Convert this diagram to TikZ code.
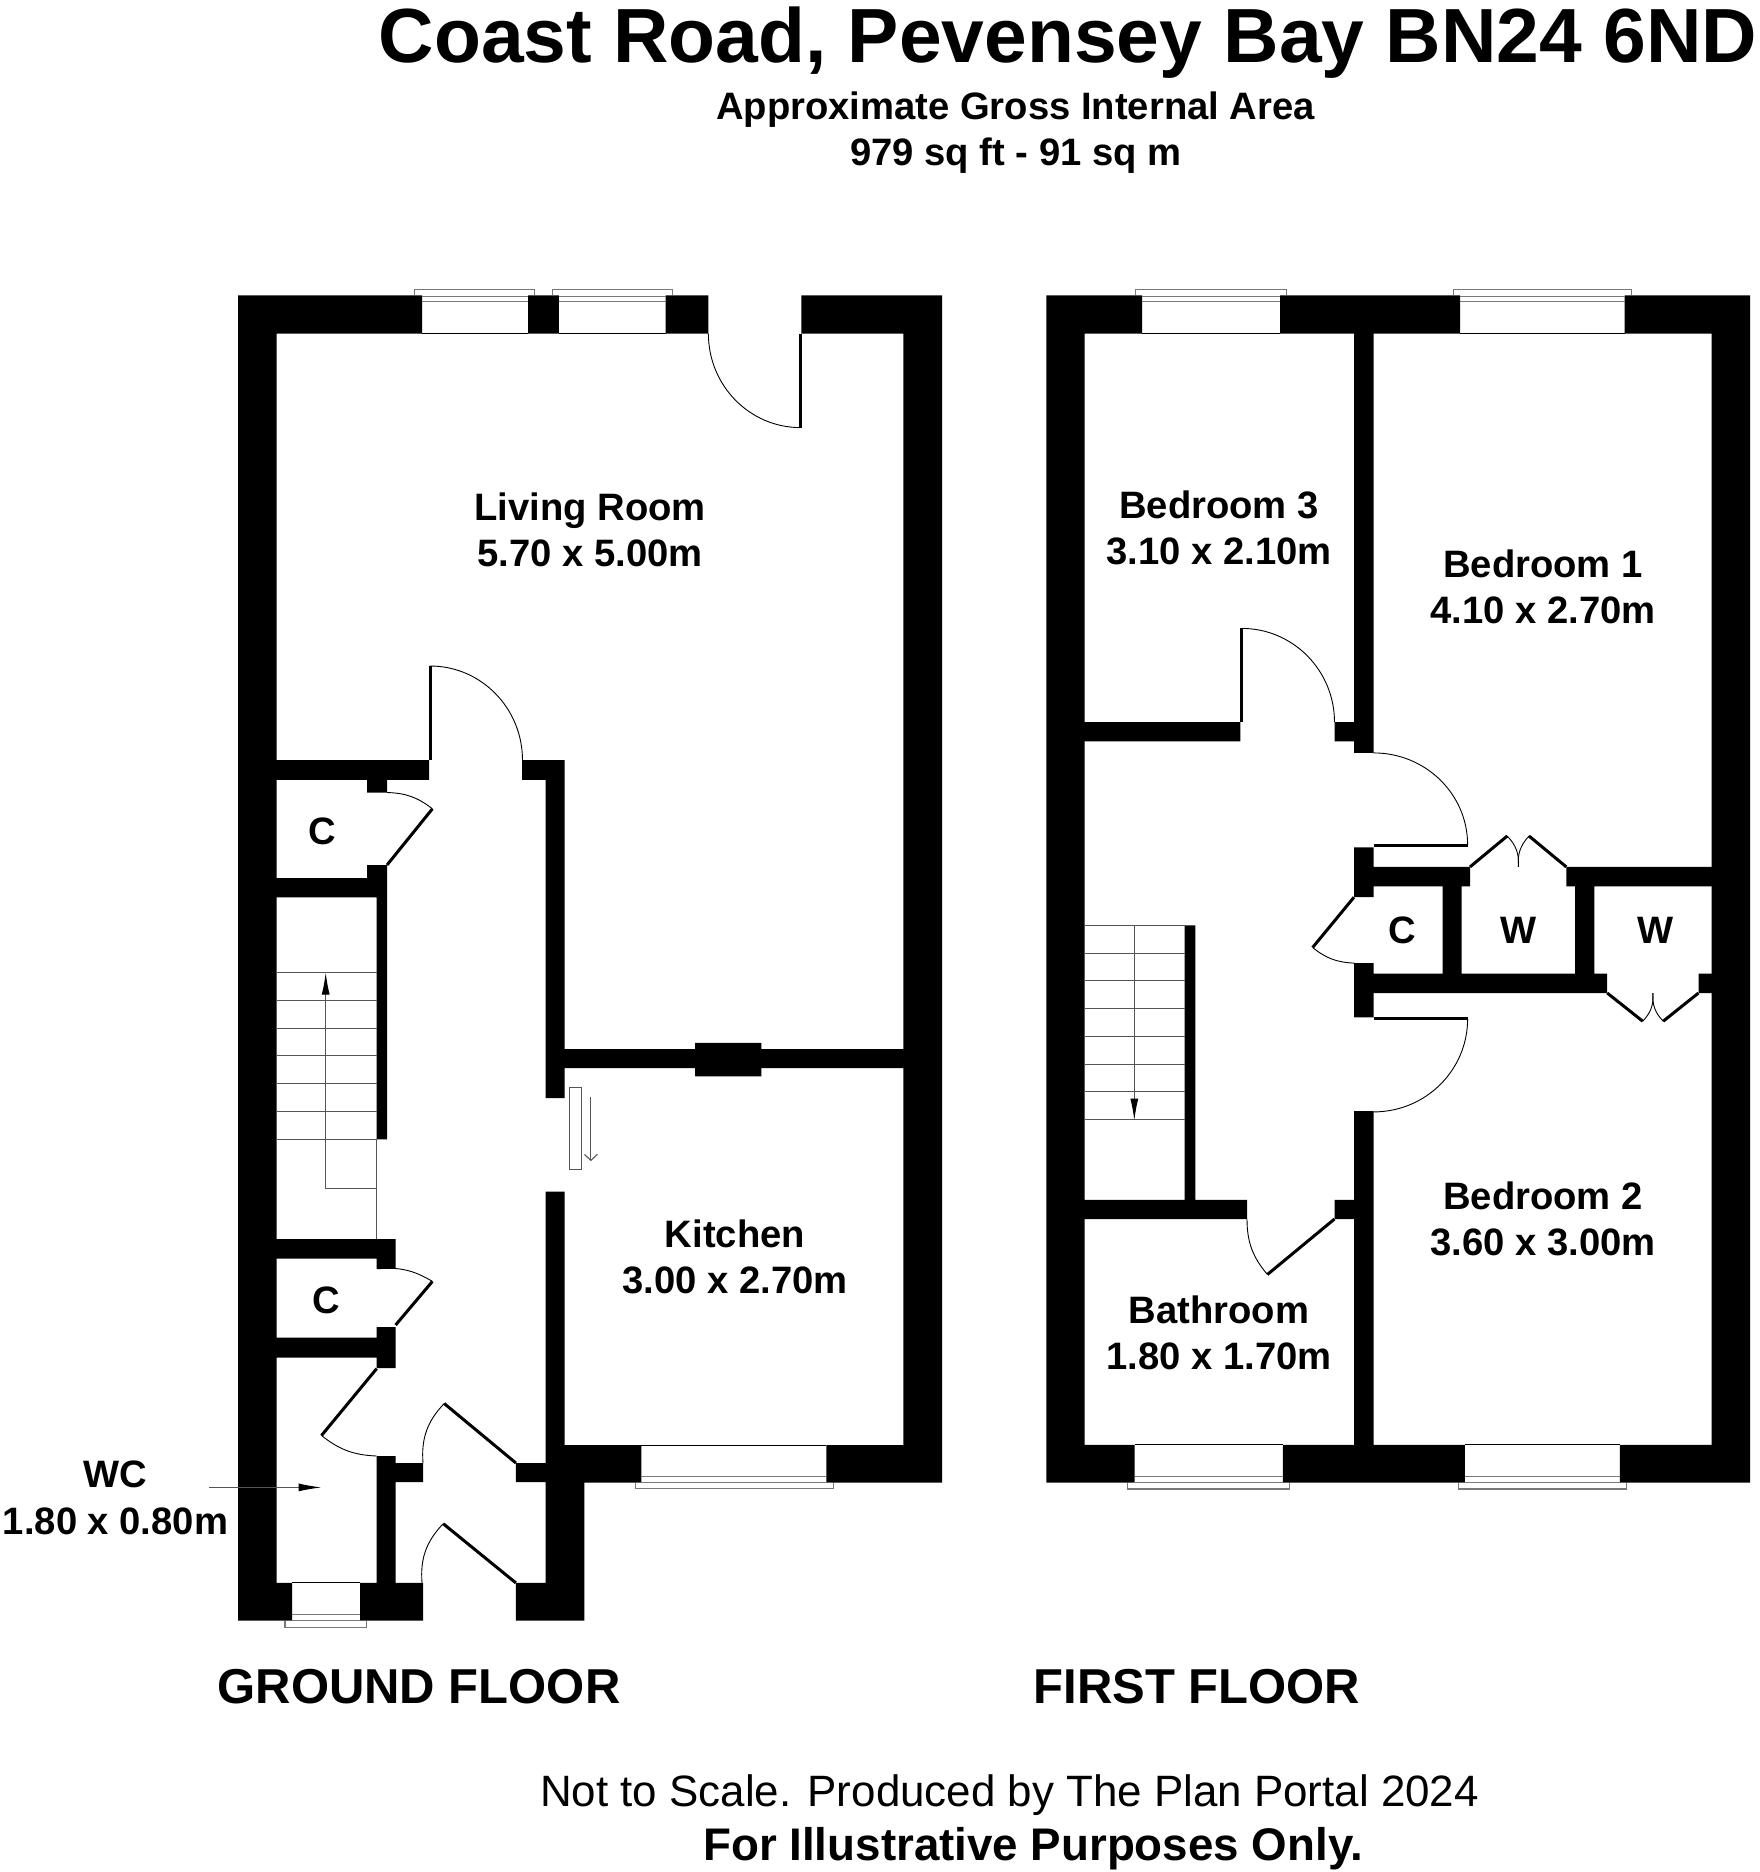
\documentclass[tikz,border=0pt]{standalone}
\usepackage{fontspec}
\setmainfont{Liberation Sans}
\usetikzlibrary{arrows.meta}
\definecolor{planline}{RGB}{85,85,85}
\definecolor{sillline}{RGB}{120,120,120}
\tikzset{
  wall/.style={fill=black},
  leaf/.style={draw=black,line width=3pt},
  swing/.style={draw=black,line width=0.9pt},
  stairline/.style={draw=planline,line width=1.1pt},
  sill/.style={draw=sillline,line width=1.1pt},
  roomtext/.style={anchor=base,inner sep=0pt,font=\bfseries\fontsize{38.2}{46}\selectfont},
  floortext/.style={anchor=base,inner sep=0pt,font=\bfseries\fontsize{49}{58}\selectfont},
  noteboldtext/.style={anchor=base,inner sep=0pt,font=\bfseries\fontsize{45.7}{54}\selectfont},
  noteplaintext/.style={anchor=base,inner sep=0pt,font=\fontsize{43.9}{52}\selectfont},
}
% window on the top wall: clear span, then sill
\newcommand{\topwindow}[4]{
  \draw[sill] (#3,295.3) -- (#3,289.2) -- (#4,289.2) -- (#4,295.3);
  \draw[sill] (#1,296.5) -- (#2,296.5) (#1,301.8) -- (#2,301.8);
  \draw[swing] (#1,333.7) -- (#2,333.7);
}
% window on the bottom wall, y of the wall edge in #5
\newcommand{\lowwindow}[5]{
  \draw[sill] (#3,#5) -- (#3,#5+6.4) -- (#4,#5+6.4) -- (#4,#5);
  \draw[sill] (#1,#5) -- (#2,#5) (#1,#5-6) -- (#2,#5-6);
}
\begin{document}
\begin{tikzpicture}[x=1pt,y=-1pt]
  \useasboundingbox (0,0) rectangle (1760,1872);

  \node[anchor=base,inner sep=0pt,font=\bfseries\fontsize{76.8}{90}\selectfont] (title) at (1068,62) {Coast Road, Pevensey Bay BN24 6ND};
  \node[roomtext] (areaname) at (1015.5,119) {Approximate Gross Internal Area};
  \node[roomtext] (areasize) at (1016,165) {979 sq ft - 91 sq m};

  % ground floor walls
  \fill[wall]
    (238,295.3) rectangle (422,333.7)
    (528,295.3) rectangle (558.8,333.7)
    (665.5,295.3) rectangle (708.4,333.7)
    (801.4,295.3) rectangle (942,333.7)
    (903.3,295.3) rectangle (942,1482.5)
    (238,295.3) rectangle (276.6,1620.7)
    (276.6,760.2) rectangle (429,779.8)
    (522,760.2) rectangle (564.5,779.8)
    (545.6,760.2) rectangle (564.5,1098)
    (367.2,779.8) rectangle (387,792.5)
    (367.2,865) rectangle (387,878)
    (276.6,878) rectangle (387,897.4)
    (376.7,878) rectangle (387,1139.3)
    (276.6,1239.2) rectangle (395.6,1258.6)
    (376.7,1239.2) rectangle (395.6,1268.8)
    (376.7,1327) rectangle (395.6,1368)
    (276.6,1337.6) rectangle (395.6,1357.5)
    (376.7,1456) rectangle (395.6,1620.7)
    (395.6,1463) rectangle (423,1482)
    (515.9,1463) rectangle (545.6,1482)
    (545.6,1191.7) rectangle (564.5,1482.5)
    (545.6,1445.2) rectangle (641.4,1482.5)
    (826.4,1445.2) rectangle (942,1482.5)
    (545.6,1482.5) rectangle (584.3,1620.7)
    (564.5,1049.2) rectangle (903.3,1068)
    (695.2,1042.9) rectangle (761.3,1076.3)
    (276.6,1582.9) rectangle (292.2,1620.7)
    (360.2,1582.9) rectangle (423,1620.7)
    (515.9,1582.9) rectangle (545.6,1620.7);

  \topwindow{422}{528}{414.4}{534.8}
  \topwindow{558.8}{665.5}{552.2}{672.6}
  \lowwindow{641.4}{826.4}{635.3}{833.5}{1482.5}
  \lowwindow{292.2}{360.2}{285}{366.8}{1620.7}
  \draw[swing] (641.4,1445.2) -- (826.4,1445.2);
  \draw[swing] (292.2,1582.9) -- (360.2,1582.9);

  % ground floor doors
  \draw[leaf] (800.5,333.7) -- (800.5,427.6);
  \draw[swing] (708.4,333.7) arc[start angle=180,end angle=270,x radius=92.1pt,y radius=93.9pt];
  \draw[leaf] (430.2,760.2) -- (430.2,666);
  \draw[swing] (430.2,666) arc[start angle=90,end angle=0,x radius=92.3pt,y radius=94.2pt];
  \draw[leaf] (432.4,808.8) -- (387,865);
  \draw[swing] (387,792.5) to[bend left=18] (432.4,808.8);
  \draw[leaf] (432.4,1281.4) -- (395.6,1325);
  \draw[swing] (378,1268.8) to[bend left=18] (432.4,1281.4);
  \draw[leaf] (376.7,1368.6) -- (321.5,1435.5);
  \draw[swing] (321.5,1435.5) to[bend right=18] (376.7,1456);
  \draw[leaf] (444.2,1403.5) -- (515.9,1463);
  \draw[swing] (423,1463) to[bend left=24] (444.2,1403.5);
  \draw[leaf] (443.2,1523.7) -- (515.9,1582.9);
  \draw[swing] (422,1582.9) to[bend left=24] (443.2,1523.7);

  % sliding door
  \draw[stairline] (569.7,1087.5) rectangle (581.5,1169.9);
  \draw[stairline,-{Straight Barb[length=6pt,width=13pt]}] (590.9,1097.2) -- (590.9,1161.1);

  % ground floor stairs
  \foreach \treadY in {972.6,1000.7,1028.3,1055.5,1083.6,1111.2,1139.3}
    \draw[stairline] (276.6,\treadY) -- (376.7,\treadY);
  \draw[stairline] (376.7,1139.3) -- (376.7,1239.2);
  \draw[stairline,-{Latex[length=22pt,width=8pt,black]}] (376.7,1188.3) -- (325.7,1188.3) -- (325.7,972.6);

  % first floor walls
  \fill[wall]
    (1046.3,295.3) rectangle (1142.2,333.7)
    (1280,295.3) rectangle (1460.2,333.7)
    (1624.5,295.3) rectangle (1750.2,333.7)
    (1046.3,295.3) rectangle (1084.5,1482.6)
    (1711.6,295.3) rectangle (1750.2,1482.6)
    (1354,333.7) rectangle (1373.6,752.9)
    (1334.5,722.2) rectangle (1354,741.4)
    (1084.5,722.2) rectangle (1240.4,741.4)
    (1354,847.3) rectangle (1373.6,897.2)
    (1373.6,866.9) rectangle (1470,886.4)
    (1442.5,886.4) rectangle (1461.6,973.5)
    (1566.3,866.9) rectangle (1711.6,886.4)
    (1575.2,886.4) rectangle (1594.3,973.5)
    (1354,973.5) rectangle (1607.2,993)
    (1698.5,973.5) rectangle (1711.6,993)
    (1354,963.1) rectangle (1373.6,1017.3)
    (1354,1111) rectangle (1373.6,1445)
    (1184.6,925.4) rectangle (1195.3,1199.9)
    (1084.5,1199.9) rectangle (1247,1219)
    (1334.5,1199.9) rectangle (1354,1219)
    (1046.3,1444.9) rectangle (1134.7,1482.6)
    (1282.8,1444.9) rectangle (1464.8,1482.6)
    (1619.9,1444.9) rectangle (1750.2,1482.6);

  \topwindow{1142.2}{1280}{1135.2}{1286.5}
  \topwindow{1460.2}{1624.5}{1453.7}{1631.5}
  \lowwindow{1134.7}{1282.8}{1127.8}{1289.3}{1482.6}
  \lowwindow{1464.8}{1619.9}{1458.3}{1626.4}{1482.6}
  \draw[swing] (1134.7,1444.9) -- (1282.8,1444.9) (1464.8,1444.9) -- (1619.9,1444.9);

  % first floor doors
  \draw[leaf] (1241.8,722.2) -- (1241.8,628.4);
  \draw[swing] (1241.8,628.4) arc[start angle=90,end angle=0,x radius=92.7pt,y radius=93.8pt];
  \draw[leaf] (1373.6,845.4) -- (1467.6,845.4);
  \draw[swing] (1373.6,752.9) arc[start angle=90,end angle=0,x radius=94pt,y radius=91.8pt];
  \draw[leaf] (1373.6,1018.7) -- (1467.6,1018.7);
  \draw[swing] (1467.6,1019) arc[start angle=0,end angle=-90,x radius=94pt,y radius=92.9pt];
  \draw[leaf] (1354,897.2) -- (1312.6,947.5);
  \draw[swing] (1312.6,947.5) to[bend right=18] (1354,963.1);
  \draw[leaf] (1334.5,1219) -- (1267.4,1274.5);
  \draw[swing] (1247,1219) to[bend right=20] (1267.4,1274.5);

  % wardrobe doors
  \draw[leaf] (1470,866.9) -- (1507.2,836);
  \draw[leaf] (1566.3,866.9) -- (1529,836);
  \draw[swing] (1507.2,836) to[bend left=24] (1518.4,866.9);
  \draw[swing] (1529,836) to[bend right=24] (1518.4,866.9);
  \draw[leaf] (1607.2,993) -- (1642.7,1021.2);
  \draw[leaf] (1698.5,993) -- (1663.2,1021.2);
  \draw[swing] (1642.7,1021.2) to[bend right=24] (1652.9,993);
  \draw[swing] (1663.2,1021.2) to[bend left=24] (1652.9,993);

  % first floor stairs
  \foreach \treadY in {925.4,953.6,980.9,1008.7,1036.4,1064.2,1091.5,1119.2}
    \draw[stairline] (1084.5,\treadY) -- (1184.6,\treadY);
  \draw[stairline,-{Latex[length=22pt,width=8pt,black]}] (1134.3,925.4) -- (1134.3,1120.5);

  % room names
  \node[roomtext] (livingname) at (590,520) {Living Room};
  \node[roomtext] (livingsize) at (590,566) {5.70 x 5.00m};
  \node[roomtext] (kitchenname) at (735,1247) {Kitchen};
  \node[roomtext] (kitchensize) at (735,1293) {3.00 x 2.70m};
  \node[roomtext] (cupboardone) at (322,844) {C};
  \node[roomtext] (cupboardtwo) at (326.5,1313) {C};
  \node[roomtext] (wcname) at (115.5,1487) {WC};
  \node[roomtext] (wcsize) at (115.5,1534) {1.80 x 0.80m};
  \coordinate (wcfrom) at (209,1487.4);
  \coordinate (wcto) at (321.5,1487.4);
  \draw[stairline,-{Latex[length=23pt,width=8pt,black]}] (wcfrom) -- (wcto);
  \node[roomtext] (bedthreename) at (1219,518) {Bedroom 3};
  \node[roomtext] (bedthreesize) at (1219,564) {3.10 x 2.10m};
  \node[roomtext] (bedonename) at (1543,577) {Bedroom 1};
  \node[roomtext] (bedonesize) at (1543,623) {4.10 x 2.70m};
  \node[roomtext] (bedtwoname) at (1543,1209.4) {Bedroom 2};
  \node[roomtext] (bedtwosize) at (1543,1255) {3.60 x 3.00m};
  \node[roomtext] (bathname) at (1219,1323) {Bathroom};
  \node[roomtext] (bathsize) at (1219,1369) {1.80 x 1.70m};
  \node[roomtext] (cupboardfirst) at (1402.4,943.5) {C};
  \node[roomtext] (wardrobeone) at (1518.4,943.5) {W};
  \node[roomtext] (wardrobetwo) at (1655.5,943.5) {W};

  \node[floortext] (groundname) at (419,1703) {GROUND FLOOR};
  \node[floortext] (firstname) at (1197,1703) {FIRST FLOOR};
  \node[noteplaintext] (scalenote) at (1009.5,1806) {Not to Scale. Produced by The Plan Portal 2024};
  \node[noteboldtext] (illusnote) at (1033,1860) {For Illustrative Purposes Only.};
\end{tikzpicture}
\end{document}
